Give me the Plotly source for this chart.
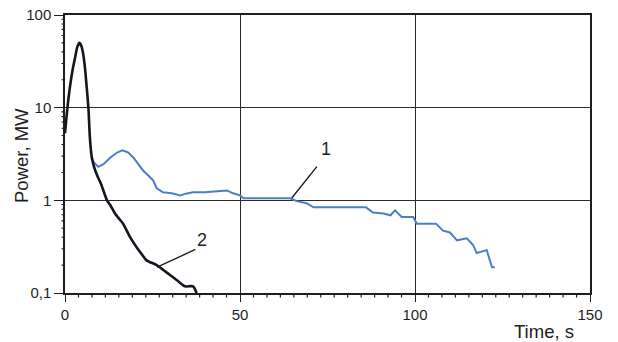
import math
import plotly.graph_objects as go

# Curve 2 (black)
t2 = [0, 0.7, 1.4, 2.2, 2.9, 3.5, 4.1, 4.7, 5.2, 5.7, 6.2, 6.7, 7.1, 7.6, 8.3, 9.2, 10.3, 12, 13, 14.3,
      15.5, 16.6, 18.6, 20.5, 22, 23.3, 26.2, 29, 32, 34.3, 36.6, 37.6]
p2 = [5.3, 10, 16.6, 26, 35, 45, 50, 46, 38, 27, 16.6, 9.8, 4.8, 3.0, 2.3, 1.85, 1.5, 1.0, 0.88, 0.72,
      0.63, 0.56, 0.40, 0.31, 0.26, 0.225, 0.2, 0.167, 0.137, 0.118, 0.118, 0.1]

# Curve 1 (blue)
t1 = [7.4, 8.5, 9.5, 11, 13, 15, 16.4, 18, 19.5, 21, 22.3, 23.8, 25.2, 26.2, 28, 30.5, 33, 34.5, 36.6,
      40, 43.4, 46.3, 48, 50, 51, 58, 64.3, 66.2, 69, 71, 78, 86, 88, 91, 93, 94.3, 96.2, 99.5, 100.5,
      106, 108, 110, 112, 114.8, 116.6, 117.6, 120.5, 121.4, 122, 122.8]
p1 = [2.9, 2.5, 2.3, 2.45, 2.9, 3.3, 3.46, 3.3, 2.9, 2.45, 2.1, 1.85, 1.64, 1.35, 1.22, 1.19, 1.13, 1.18,
      1.22, 1.22, 1.25, 1.28, 1.19, 1.13, 1.05, 1.05, 1.05, 0.98, 0.93, 0.84, 0.84, 0.84, 0.74, 0.72, 0.69,
      0.78, 0.66, 0.66, 0.56, 0.56, 0.47, 0.45, 0.37, 0.39, 0.33, 0.27, 0.29, 0.225, 0.19, 0.19]

y_tickvals = [0.1, 1, 10, 100]
y_ticktext = ["0,1", "1", "10", "100"]
y_minor = [v * m for v in (0.1, 1, 10) for m in range(2, 10)]
x_tickvals = [0, 50, 100, 150]
x_minor = [k * 50 / 13 for k in range(1, 39) if k % 13]

# label annotations: (text, label x, label y, line from x, y, line to x, y)
labels = [("1", 74.5, 3.6, 72.3, 2.4, 64.8, 1.06),
          ("2", 39.0, 0.37, 37.7, 0.30, 26.3, 0.19)]

FONT = "Liberation Sans, Arial, sans-serif"
INK = "#1e1e1e"

W, H = 618, 342
ML, MR, MT, MB = 65, 28, 15, 49
plot_w = W - ML - MR
plot_h = H - MT - MB

fig = go.Figure()
fig.add_trace(go.Scatter(x=t1, y=p1, mode="lines", line=dict(color="#4b7fc4", width=2),
                         showlegend=False))
fig.add_trace(go.Scatter(x=t2, y=p2, mode="lines",
                         line=dict(color="#151520", width=2.6, shape="spline", smoothing=0.6),
                         showlegend=False))

for text, lx, ly, x0, y0, x1, y1 in labels:
    fig.add_annotation(x=lx, y=math.log10(ly), xref="x", yref="y", text=text, showarrow=False,
                       font=dict(family=FONT, size=18, color=INK))
    fig.add_annotation(x=x1, y=math.log10(y1), xref="x", yref="y", ax=x0, ay=math.log10(y0),
                       axref="x", ayref="y", text="", showarrow=True, arrowhead=0,
                       arrowwidth=1.4, arrowcolor=INK)

fig.add_annotation(x=(544 - 65) / plot_w, y=-(331 - 293) / plot_h, xref="paper", yref="paper",
                   xanchor="center", yanchor="middle",
                   text="Time, s", showarrow=False, font=dict(family=FONT, size=18.5, color=INK))
fig.add_annotation(x=-(65 - 21) / plot_w, y=(293 - 156) / plot_h, xref="paper", yref="paper",
                   xanchor="center", yanchor="middle",
                   text="Power, MW", textangle=-90, showarrow=False,
                   font=dict(family=FONT, size=18.5, color=INK))

# minor tick marks as short leader lines (pixel offsets) at each minor tick value
for v in y_minor:
    fig.add_annotation(x=0, xref="paper", y=math.log10(v), yref="y", ax=-5, ay=0, text="",
                       showarrow=True, arrowhead=0, arrowwidth=1.1, arrowcolor=INK, standoff=0)
for v in x_minor:
    fig.add_annotation(x=v, xref="x", y=0, yref="paper", ax=0, ay=6, text="",
                       showarrow=True, arrowhead=0, arrowwidth=1.2, arrowcolor=INK, standoff=0)

fig.update_layout(
    width=W, height=H,
    margin=dict(l=ML, r=MR, t=MT, b=MB, autoexpand=False),
    plot_bgcolor="white", paper_bgcolor="white",
    font=dict(family=FONT, size=15, color=INK),
    xaxis=dict(range=[0, 150], tickvals=x_tickvals, ticks="outside", ticklen=7, tickwidth=1.4,
               tickcolor=INK, showline=True, linecolor=INK, linewidth=1.5, mirror=True,
               showgrid=True, gridcolor="#2a2a2a", gridwidth=1.2, zeroline=False),
    yaxis=dict(type="log", range=[-1, 2], tickvals=y_tickvals, ticktext=y_ticktext,
               ticks="outside", ticklen=9, tickwidth=1.4, tickcolor=INK, showline=True, linecolor=INK,
               linewidth=1.5, mirror=True, showgrid=True, gridcolor="#2a2a2a", gridwidth=1.2,
               zeroline=False, ticklabeloverflow="allow"),
)

fig.write_html("out.html", config={"displayModeBar": False},
               post_script="document.body.style.margin='0px';")
